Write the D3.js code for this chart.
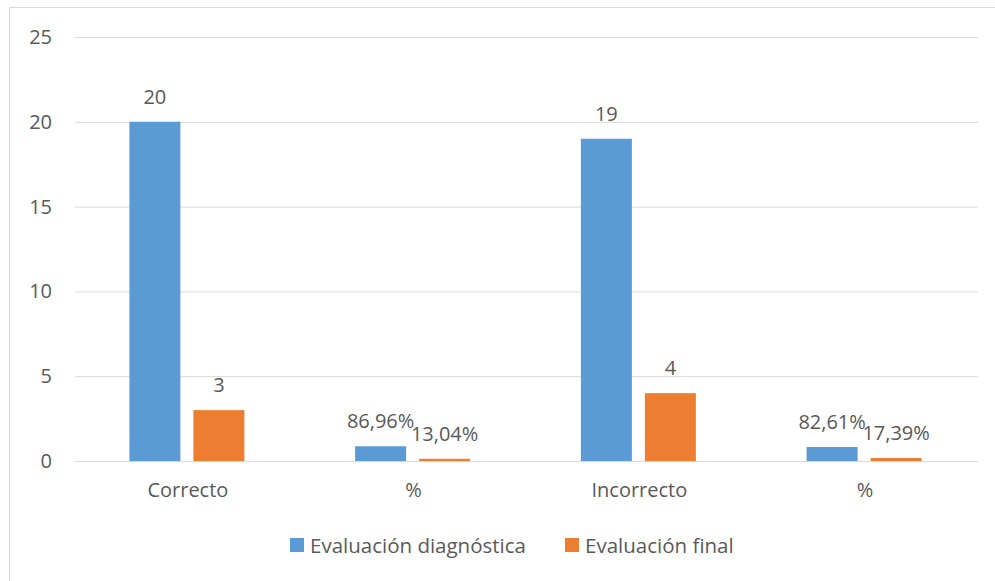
<!DOCTYPE html>
<html>
<head>
<meta charset="utf-8">
<script src="https://cdn.jsdelivr.net/npm/d3@7"></script>
<style>
  body { margin: 0; background: #fff; }
  text { font-family: "Open Sans", sans-serif; fill: #595959; }
</style>
</head>
<body>
<div id="chart"></div>
<script>
// chart values
var categories = ['Correcto', '%', 'Incorrecto', '%'];
var isPercent = [false, true, false, true];
var seriesNames = ['Evaluación diagnóstica', 'Evaluación final'];
var diagnostica = [20, 0.8696, 19, 0.8261];
var final = [3, 0.1304, 4, 0.1739];
var yTicks = [0, 5, 10, 15, 20, 25];

var colors = ['#5B9BD5', '#ED7D31'];

var svgWidth = 995;
var svgHeight = 581;

var margin = { top: 37, left: 75, right: 17, bottom: 120 };
var width = svgWidth - margin.left - margin.right;
var height = svgHeight - margin.top - margin.bottom;

var svg = d3.select('#chart')
  .append('svg')
  .attr('width', svgWidth)
  .attr('height', svgHeight);

// outer border of the chart area
svg.append('rect')
  .attr('x', 9.5)
  .attr('y', 7.5)
  .attr('width', 1000)
  .attr('height', 600)
  .attr('fill', 'none')
  .attr('stroke', '#D9D9D9');

var chartGroup = svg.append('g')
  .attr('transform', `translate(${margin.left}, ${margin.top})`);

// scales
var x0 = d3.scaleBand()
  .domain(d3.range(categories.length))
  .range([0, width]);

// pair of bars, slightly left of the band centre like the original
var pairCenter = x0.bandwidth() / 2 - 1;
var x1 = d3.scaleBand()
  .domain(d3.range(seriesNames.length))
  .range([pairCenter - 57.5, pairCenter + 57.5])
  .paddingInner(13 / 64);

var y = d3.scaleLinear()
  .domain([0, 25])
  .range([height, 0]);

var locale = d3.formatLocale({ decimal: ',', thousands: '.', grouping: [3], currency: ['', '€'] });
var pct = locale.format('.2%');

// gridlines + y labels
var yAxis = chartGroup.append('g')
  .call(d3.axisLeft(y).tickValues(yTicks).tickSize(-width).tickPadding(23));
yAxis.select('.domain').remove();
yAxis.selectAll('line').attr('stroke', '#D9D9D9');
yAxis.selectAll('text')
  .style('font-family', '"Open Sans", sans-serif')
  .style('font-size', '20px')
  .attr('fill', '#595959');

// x axis (labels only)
var xAxis = chartGroup.append('g')
  .attr('transform', `translate(0, ${height})`)
  .call(d3.axisBottom(x0).tickSize(0).tickFormat(i => categories[i]));
xAxis.select('.domain').remove();
xAxis.selectAll('text')
  .attr('y', 36)
  .attr('dy', 0)
  .style('font-family', '"Open Sans", sans-serif')
  .style('font-size', '20px')
  .attr('fill', '#595959');

// bars
var seriesData = [diagnostica, final];

seriesData.forEach(function (values, s) {
  var g = chartGroup.append('g');

  g.selectAll('rect')
    .data(values)
    .enter()
    .append('rect')
    .attr('x', (d, i) => x0(i) + x1(s))
    .attr('y', d => y(d))
    .attr('width', x1.bandwidth())
    .attr('height', d => height - y(d))
    .attr('fill', colors[s]);

  g.selectAll('text')
    .data(values)
    .enter()
    .append('text')
    .attr('x', (d, i) => x0(i) + x1(s) + x1.bandwidth() / 2)
    .attr('y', d => y(d) - 18)
    .attr('text-anchor', 'middle')
    .style('font-size', '20px')
    .text((d, i) => isPercent[i] ? pct(d) : d);
});

// legend
var legendX = [290, 565];
var legend = svg.append('g');
seriesNames.forEach(function (name, s) {
  legend.append('rect')
    .attr('x', legendX[s])
    .attr('y', 538)
    .attr('width', 14)
    .attr('height', 14)
    .attr('fill', colors[s]);
  legend.append('text')
    .attr('x', legendX[s] + 20)
    .attr('y', 553)
    .style('font-size', '20.5px')
    .text(name);
});
</script>
</body>
</html>
